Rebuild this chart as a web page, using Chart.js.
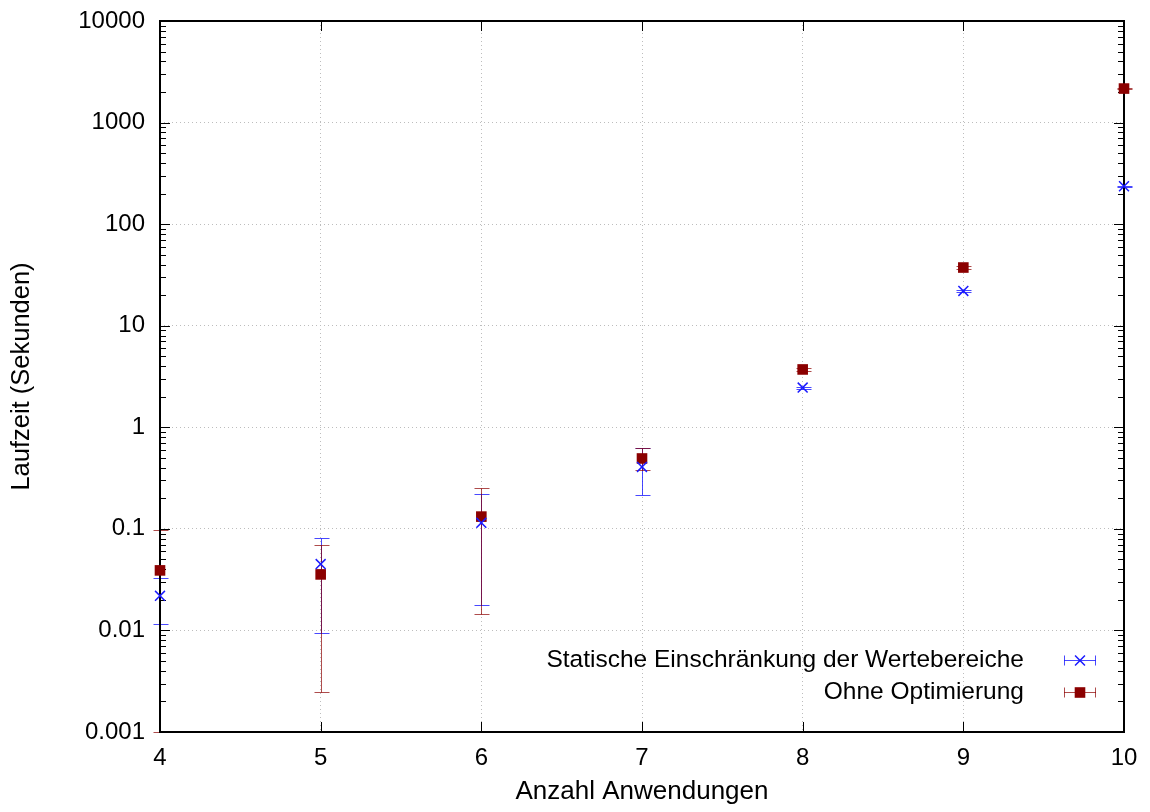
<!DOCTYPE html>
<html>
<head>
<meta charset="utf-8">
<script src="https://cdn.jsdelivr.net/npm/chart.js@4.4.0/dist/chart.umd.min.js"></script>
<style>
  html, body { margin: 0; padding: 0; background: #fff; }
  #wrap { width: 1150px; height: 812px; }
</style>
</head>
<body>
<div id="wrap"><canvas id="laufzeitChart" width="1150" height="812"></canvas></div>
<script>
// values (mean, lower and upper end of the error bar)
const anwendungen = [4, 5, 6, 7, 8, 9, 10];

const statischMittel = [0.0219, 0.045, 0.1146, 0.407, 2.46, 22.0, 236];
const statischMin    = [0.0115, 0.0095, 0.0176, 0.215, 2.40, 21.6, 232];
const statischMax    = [0.0327, 0.081, 0.219, 0.63, 2.52, 22.4, 240];

const ohneMittel = [0.039, 0.0356, 0.132, 0.493, 3.71, 37.4, 2162];
const ohneMin    = [0.001, 0.0025, 0.0144, 0.38, 3.62, 36.5, 2120];
const ohneMax    = [0.097, 0.0686, 0.251, 0.63, 3.80, 38.3, 2200];

const seriesNames = ['Statische Einschränkung der Wertebereiche', 'Ohne Optimierung'];
const xTickValues = [4, 5, 6, 7, 8, 9, 10];
const yTickValues = [0.001, 0.01, 0.1, 1, 10, 100, 1000, 10000];
const yTickLabels = ['0.001', '0.01', '0.1', '1', '10', '100', '1000', '10000'];
const minorSteps = [2, 3, 4, 5, 6, 7, 8, 9];
const xTitle = 'Anzahl Anwendungen';
const yTitle = 'Laufzeit (Sekunden)';

const BLUE = '#1a1aff';
const DARKRED = '#8b0000';
const FONT = '"Liberation Sans", Arial, sans-serif';

Chart.defaults.font.family = FONT;
Chart.defaults.font.size = 24;
Chart.defaults.color = '#000';

function points(mean, lo, hi) {
    return anwendungen.map((a, i) => ({ x: a, y: mean[i], yMin: lo[i], yMax: hi[i] }));
}

/* ================= ERROR BARS (under the frame, under the markers) ================= */
const errorBars = {
    id: 'errorBars',
    beforeDatasetsDraw(chart) {
        const xs = chart.scales.x, ys = chart.scales.y;
        const ctx = chart.ctx;
        ctx.save();
        ctx.lineWidth = 1;
        chart.data.datasets.forEach(ds => {
            ctx.strokeStyle = ds.barColor;
            ds.data.forEach(p => {
                const px = Math.round(xs.getPixelForValue(p.x)) + 0.5;
                const top = Math.round(ys.getPixelForValue(p.yMax)) + 0.5;
                const bot = Math.round(ys.getPixelForValue(p.yMin)) + 0.5;
                ctx.beginPath();
                ctx.moveTo(px, top); ctx.lineTo(px, bot);
                ctx.moveTo(px - 7, top); ctx.lineTo(px + 8, top);
                ctx.moveTo(px - 7, bot); ctx.lineTo(px + 8, bot);
                ctx.stroke();
            });
        });
        ctx.restore();
    }
};

/* ================= FRAME + INWARD TICKS ================= */
const frameTicks = {
    id: 'frameTicks',
    beforeDatasetsDraw(chart) {
        const { ctx, chartArea: a } = chart;
        const xs = chart.scales.x, ys = chart.scales.y;
        ctx.save();
        ctx.strokeStyle = '#000';
        ctx.lineWidth = 1;
        ctx.beginPath();
        xTickValues.forEach(v => {
            const px = Math.round(xs.getPixelForValue(v)) + 0.5;
            ctx.moveTo(px, a.bottom); ctx.lineTo(px, a.bottom - 10);
            ctx.moveTo(px, a.top); ctx.lineTo(px, a.top + 10);
        });
        yTickValues.forEach((v, i) => {
            const py = Math.round(ys.getPixelForValue(v)) + 0.5;
            ctx.moveTo(a.left, py); ctx.lineTo(a.left + 10, py);
            ctx.moveTo(a.right, py); ctx.lineTo(a.right - 10, py);
            if (i < yTickValues.length - 1) {
                minorSteps.forEach(m => {
                    const my = Math.round(ys.getPixelForValue(v * m)) + 0.5;
                    ctx.moveTo(a.left, my); ctx.lineTo(a.left + 6, my);
                    ctx.moveTo(a.right, my); ctx.lineTo(a.right - 6, my);
                });
            }
        });
        ctx.stroke();
        ctx.lineWidth = 2;
        ctx.strokeRect(a.left, a.top, a.right - a.left, a.bottom - a.top);
        ctx.restore();
    }
};

/* ================= KEY (bottom right, gnuplot style) ================= */
const keyBox = {
    id: 'keyBox',
    afterDraw(chart) {
        const ctx = chart.ctx;
        const textRight = 1024, sx0 = 1064, sx1 = 1096, rowY = [660, 692];
        ctx.save();
        ctx.font = '24.5px ' + FONT;
        ctx.textAlign = 'right';
        ctx.textBaseline = 'middle';
        chart.data.datasets.forEach((ds, i) => {
            const y = rowY[i] + 0.5;
            ctx.fillStyle = '#000';
            ctx.fillText(ds.label, textRight, rowY[i]);
            ctx.strokeStyle = ds.barColor;
            ctx.lineWidth = 1;
            ctx.beginPath();
            ctx.moveTo(sx0, y); ctx.lineTo(sx1, y);
            ctx.moveTo(sx0 + 0.5, y - 5); ctx.lineTo(sx0 + 0.5, y + 5);
            ctx.moveTo(sx1 - 0.5, y - 5); ctx.lineTo(sx1 - 0.5, y + 5);
            ctx.stroke();
            ctx.fillStyle = ds.backgroundColor;
            ctx.strokeStyle = ds.borderColor;
            ctx.lineWidth = ds.borderWidth;
            Chart.helpers.drawPoint(ctx, {
                pointStyle: ds.pointStyle, radius: ds.pointRadius,
                rotation: 0, borderWidth: ds.borderWidth
            }, (sx0 + sx1) / 2, y);
        });
        ctx.restore();
    }
};

new Chart(document.getElementById('laufzeitChart'), {
    type: 'scatter',
    data: {
        datasets: [{
            label: seriesNames[0],
            data: points(statischMittel, statischMin, statischMax),
            pointStyle: 'crossRot',
            pointRadius: 7,
            pointHoverRadius: 7,
            borderWidth: 1.5,
            borderColor: BLUE,
            backgroundColor: BLUE,
            barColor: 'rgba(26,26,255,0.8)',
            clip: false
        }, {
            label: seriesNames[1],
            data: points(ohneMittel, ohneMin, ohneMax),
            pointStyle: 'rect',
            pointRadius: 7.5,
            pointHoverRadius: 7.5,
            borderWidth: 0,
            borderColor: DARKRED,
            backgroundColor: DARKRED,
            barColor: 'rgba(139,0,0,0.7)',
            clip: false
        }]
    },
    options: {
        responsive: false,
        animation: false,
        devicePixelRatio: 1,
        layout: { padding: { top: 21, right: 26, left: 0, bottom: 0 } },
        plugins: {
            legend: { display: false },
            tooltip: { enabled: false }
        },
        scales: {
            x: {
                type: 'linear',
                min: 4,
                max: 10,
                afterBuildTicks: s => { s.ticks = xTickValues.map(v => ({ value: v })); },
                afterFit: s => { s.height = 80; s.paddingLeft = 0; s.paddingRight = 0; },
                ticks: { padding: 12, maxRotation: 0 },
                grid: { color: '#bdbdbd', lineWidth: 1, drawTicks: false },
                border: { display: false, dash: [1, 3] },
                title: { display: true, text: xTitle, font: { size: 26 }, padding: { top: 0, bottom: 5 } }
            },
            y: {
                type: 'logarithmic',
                min: 0.001,
                max: 10000,
                afterBuildTicks: s => { s.ticks = yTickValues.map(v => ({ value: v })); },
                afterFit: s => { s.width = 160; s.paddingTop = 0; s.paddingBottom = 0; },
                ticks: { padding: 15, callback: (v, i) => yTickLabels[i] },
                grid: { color: '#bdbdbd', lineWidth: 1, drawTicks: false },
                border: { display: false, dash: [1, 3] },
                title: { display: true, text: yTitle, font: { size: 25.5 }, padding: { top: 7, bottom: 0 } }
            }
        }
    },
    plugins: [errorBars, frameTicks, keyBox]
});
</script>
</body>
</html>
